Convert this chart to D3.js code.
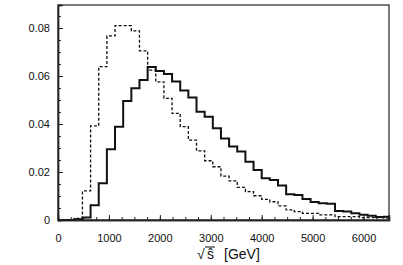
<!DOCTYPE html>
<html>
<head>
<meta charset="utf-8">
<script src="https://cdn.jsdelivr.net/npm/d3@7"></script>
<style>
  body { margin: 0; background: #fff; }
  svg text { font-family: "Liberation Sans", Arial, sans-serif; fill: #111; }
</style>
</head>
<body>
<div id="chart"></div>
<script>
// bin width and histogram contents
const binWidth = 160;
const solidValues = [0, 0, 0.0003, 0.001, 0.0061, 0.0153, 0.0295, 0.0389, 0.0496, 0.0549,
    0.0583, 0.0638, 0.0621, 0.0608, 0.0577, 0.0540, 0.0511, 0.0451, 0.0430, 0.0382,
    0.0340, 0.0306, 0.0285, 0.0243, 0.0208, 0.0174, 0.0167, 0.0144, 0.0107, 0.0104,
    0.0088, 0.0075, 0.0070, 0.0068, 0.0037, 0.0035, 0.0028, 0.0022, 0.0018, 0.0012, 0.0014];
const dashedValues = [0, 0, 0.0007, 0.0121, 0.0392, 0.0639, 0.0767, 0.0810, 0.0810, 0.0788,
    0.0705, 0.0625, 0.0576, 0.0507, 0.0444, 0.0389, 0.0333, 0.0288, 0.0247, 0.0222,
    0.0183, 0.0163, 0.0136, 0.0118, 0.0101, 0.0086, 0.0076, 0.0059, 0.0042, 0.0035,
    0.0028, 0.0028, 0.0021, 0.0021, 0.0014, 0.0014, 0.0014, 0.0010, 0.0010, 0.0010, 0.0008];
const xTicks = [0, 1000, 2000, 3000, 4000, 5000, 6000];
const yTicks = [0, 0.02, 0.04, 0.06, 0.08];

const margin = {top: 5, right: 14, bottom: 45, left: 58};
const width = 403 - margin.left - margin.right;
const height = 265 - margin.top - margin.bottom;

const svg = d3.select("#chart").append("svg")
    .attr("width", 403)
    .attr("height", 265);
const g = svg.append("g")
    .attr("transform", "translate(" + margin.left + "," + margin.top + ")");

const x = d3.scaleLinear().domain([0, 6500]).range([0, width]);
const y = d3.scaleLinear().domain([0, 0.0896]).range([height, 0]);

g.append("clipPath").attr("id", "clip")
    .append("rect").attr("width", width).attr("height", height);

// step line from bin contents
function stepPoints(vals) {
    let pts = vals.map((v, i) => [i * binWidth, v]);
    pts.push([vals.length * binWidth, vals[vals.length - 1]]);
    return pts;
}
const line = d3.line()
    .x(d => x(d[0]))
    .y(d => y(d[1]))
    .curve(d3.curveStepAfter);

g.append("path")
    .attr("clip-path", "url(#clip)")
    .attr("d", line(stepPoints(dashedValues)))
    .attr("fill", "none")
    .attr("stroke", "#111")
    .attr("stroke-width", 1.3)
    .attr("stroke-dasharray", "3,2");

g.append("path")
    .attr("clip-path", "url(#clip)")
    .attr("d", line(stepPoints(solidValues)))
    .attr("fill", "none")
    .attr("stroke", "#111")
    .attr("stroke-width", 2);

// frame
g.append("rect")
    .attr("width", width).attr("height", height)
    .attr("fill", "none").attr("stroke", "#222").attr("stroke-width", 1.2);

// x axis: ticks pointing inwards
const xAxis = g.append("g").attr("transform", "translate(0," + height + ")");
xAxis.call(d3.axisBottom(x).tickValues(d3.range(0, 6501, 250)).tickSize(-3).tickFormat(""));
xAxis.append("g").call(d3.axisBottom(x).tickValues(xTicks).tickSize(-5).tickPadding(14)
    .tickFormat(d3.format("d")));
// y axis
const yAxis = g.append("g");
yAxis.call(d3.axisLeft(y).tickValues(d3.range(0, 0.0896, 0.005)).tickSize(-3).tickFormat(""));
yAxis.append("g").call(d3.axisLeft(y).tickValues(yTicks).tickSize(-5).tickPadding(8)
    .tickFormat(d => d === 0 ? "0" : d3.format(".2f")(d)));

g.selectAll(".domain").attr("stroke", "#222").attr("stroke-width", 1.4);
g.selectAll(".tick line").attr("stroke", "#222");
g.selectAll(".tick text").attr("font-size", 11).attr("fill", "#111")
    .style("font-family", "'Liberation Sans', Arial, sans-serif");

// x axis title: sqrt(s hat) [GeV]
const title = svg.append("g").attr("transform", "translate(197,259)");
title.append("text").attr("font-size", 14).text("√");
title.append("text").attr("x", 10).attr("font-size", 14).text("ŝ");
title.append("line").attr("x1", 8).attr("x2", 18).attr("y1", -12).attr("y2", -12)
    .attr("stroke", "#111").attr("stroke-width", 1);
title.append("text").attr("x", 27).attr("font-size", 14).text("[GeV]");
</script>
</body>
</html>
